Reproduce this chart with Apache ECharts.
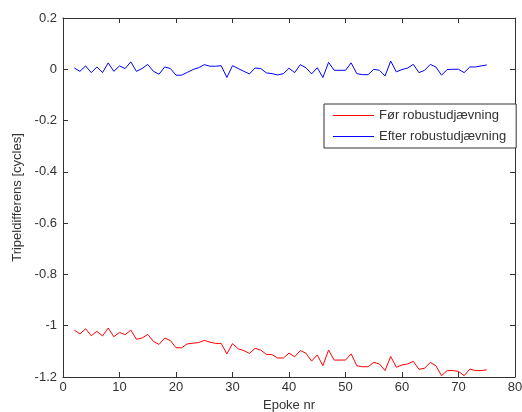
<!DOCTYPE html>
<html>
<head>
<meta charset="utf-8">
<script src="https://cdn.jsdelivr.net/npm/echarts@6/dist/echarts.min.js"></script>
<style>
html,body{margin:0;padding:0;background:#fff;}
#c{width:522px;height:412px;}
</style>
</head>
<body>
<div id="c"></div>
<script>
var epochs = [2,3,4,5,6,7,8,9,10,11,12,13,14,15,16,17,18,19,20,21,22,23,24,25,26,27,28,29,30,31,32,33,34,35,36,37,38,39,40,41,42,43,44,45,46,47,48,49,50,51,52,53,54,55,56,57,58,59,60,61,62,63,64,65,66,67,68,69,70,71,72,73,74,75];
var foer = [-1.017,-1.032,-1.012,-1.039,-1.022,-1.040,-1.009,-1.043,-1.026,-1.035,-1.017,-1.053,-1.048,-1.034,-1.061,-1.073,-1.048,-1.058,-1.086,-1.086,-1.071,-1.068,-1.066,-1.057,-1.064,-1.069,-1.069,-1.110,-1.070,-1.090,-1.097,-1.108,-1.088,-1.095,-1.112,-1.113,-1.126,-1.126,-1.107,-1.121,-1.097,-1.107,-1.138,-1.114,-1.156,-1.095,-1.134,-1.134,-1.134,-1.110,-1.156,-1.160,-1.160,-1.143,-1.149,-1.175,-1.120,-1.162,-1.153,-1.149,-1.139,-1.170,-1.166,-1.143,-1.156,-1.195,-1.175,-1.175,-1.178,-1.195,-1.169,-1.175,-1.175,-1.172];
var efter = [0.005,-0.008,0.013,-0.013,0.009,-0.013,0.025,-0.008,0.013,0.003,0.029,-0.008,0.003,0.019,-0.008,-0.019,0.009,0.003,-0.023,-0.023,-0.012,-0.001,0.006,0.018,0.012,0.012,0.014,-0.032,0.014,0.003,-0.008,-0.018,0.005,0.003,-0.014,-0.017,-0.022,-0.017,0.004,-0.013,0.018,0.006,-0.018,0.006,-0.032,0.027,-0.004,-0.004,-0.004,0.025,-0.017,-0.021,-0.021,0.000,-0.004,-0.026,0.032,-0.010,-0.001,0.005,0.019,-0.013,-0.004,0.019,0.009,-0.023,-0.001,0.000,0.000,-0.013,0.009,0.009,0.013,0.017];
var seriesNames = ['Før robustudjævning','Efter robustudjævning'];
var xLabel = 'Epoke nr';
var yLabel = 'Tripeldifferens [cycles]';

function pairs(xs, ys){ return xs.map(function(x,i){ return [x, ys[i]]; }); }

var font = 'Liberation Sans, Arial, Helvetica, sans-serif';
var axCol = '#333';
var axisLine = {show:true, onZero:false, lineStyle:{color:axCol, width:1}};
var tick = {show:true, inside:true, length:5, lineStyle:{color:axCol}};
var chart = echarts.init(document.getElementById('c'), null, {renderer:'canvas'});
chart.setOption({
  animation:false,
  backgroundColor:'#fff',
  grid:{left:63, right:7, top:18, bottom:35, containLabel:false, outerBoundsMode:'none'},
  xAxis:[
    {type:'value', min:0, max:80, interval:10, position:'bottom',
     axisLine:axisLine, axisTick:tick, splitLine:{show:false},
     axisLabel:{color:axCol, fontFamily:font, fontSize:13, margin:4},
     name:xLabel, nameLocation:'middle', nameGap:21,
     nameTextStyle:{color:axCol, fontFamily:font, fontSize:13}},
    {type:'value', min:0, max:80, interval:10, position:'top',
     axisLine:axisLine, axisTick:tick, splitLine:{show:false},
     axisLabel:{show:false}}
  ],
  yAxis:[
    {type:'value', min:-1.2, max:0.2, interval:0.2, position:'left',
     axisLine:axisLine, axisTick:tick, splitLine:{show:false},
     axisLabel:{color:axCol, fontFamily:font, fontSize:13, margin:6,
       formatter:function(v){ var r=Math.round(v*10)/10; return String(r); }},
     name:yLabel, nameLocation:'middle', nameGap:34,
     nameTextStyle:{color:axCol, fontFamily:font, fontSize:13}},
    {type:'value', min:-1.2, max:0.2, interval:0.2, position:'right',
     axisLine:axisLine, axisTick:tick, splitLine:{show:false},
     axisLabel:{show:false}}
  ],
  legend:{
    left:324, top:104, orient:'vertical',
    backgroundColor:'#fff', borderColor:axCol, borderWidth:1, borderRadius:0,
    padding:[5,10,5,9], itemGap:8, itemWidth:41, itemHeight:1,
    textStyle:{color:axCol, fontFamily:font, fontSize:13, padding:[0,0,0,0]},
    data:[{name:seriesNames[0], icon:'rect'},{name:seriesNames[1], icon:'rect'}]
  },
  series:[
    {name:seriesNames[0], type:'line', data:pairs(epochs, foer), showSymbol:false, symbol:'none',
     lineStyle:{color:'#ff0000', width:1}, itemStyle:{color:'#ff0000'}},
    {name:seriesNames[1], type:'line', data:pairs(epochs, efter), showSymbol:false, symbol:'none',
     lineStyle:{color:'#0000ff', width:1}, itemStyle:{color:'#0000ff'}}
  ]
});
</script>
</body>
</html>
